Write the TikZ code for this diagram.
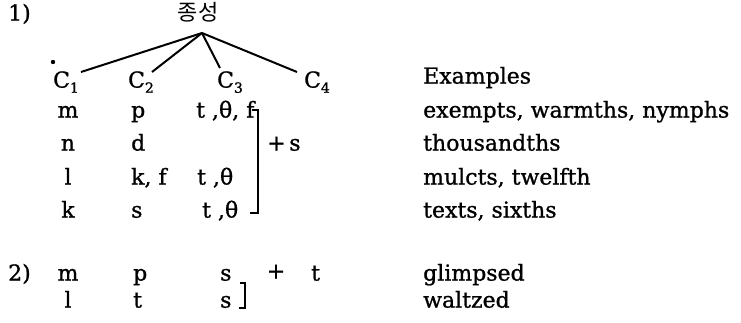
\documentclass[tikz,border=0pt]{standalone}
\usepackage{fontspec}
\setmainfont{DejaVu Serif}[FakeBold=1]
\newfontfamily\krfont{Noto Sans CJK KR}
\tikzset{every node/.style={font=\fontsize{22}{26}\selectfont, inner sep=0pt}}
\colorlet{inkcol}{black}
\newcommand{\Csub}[1]{C\raisebox{-0.45ex}{\fontsize{14}{17}\selectfont #1}}

\begin{document}
\begin{tikzpicture}[x=1pt, y=-1pt]
  \useasboundingbox (0,0) rectangle (741,322);

  % Group labels.
  \node[anchor=mid west] (num1) at (8,18) {1)};
  \node[anchor=mid west] (num2) at (8,278) {2)};

  % Tree: root and the four consonant slots.
  \node (root) at (198,12) {\krfont\fontsize{22}{26}\selectfont 종성};
  \coordinate (apex) at (202,33);
  \node[anchor=mid] (c1) at (66,85) {\Csub{1}};
  \node[anchor=mid] (c2) at (141,85) {\Csub{2}};
  \node[anchor=mid] (c3) at (230,85) {\Csub{3}};
  \node[anchor=mid] (c4) at (317,85) {\Csub{4}};
  \coordinate (e1) at (81,72);
  \coordinate (e2) at (152,72);
  \coordinate (e3) at (220,68);
  \coordinate (e4) at (297,72);
  \foreach \k in {1,2,3,4} {
    \draw[inkcol, line width=2pt] (apex) -- (e\k);
  }
  \fill[inkcol] (53,62) circle (2.2);

  % Examples heading.
  \node[anchor=mid west] (exhead) at (423,81) {Examples};

  % Rows of group 1.
  \foreach \n/\y/\a/\b/\cx/\c/\ex in {
      1/115/m/p/196/{t ,θ, f}/{exempts, warmths, nymphs},
      2/148/n/d/196/{}/{thousandths},
      3/182/l/{k, f}/197/{t ,θ}/{mulcts, twelfth},
      4/215/k/s/202/{t ,θ}/{texts, sixths}} {
    \node[anchor=mid] (a\n) at (68,\y) {\a};
    \node[anchor=mid west] (b\n) at (131,\y) {\b};
    \node[anchor=mid west] (c\n) at (\cx,\y) {\c};
    \node[anchor=mid west] (ex\n) at (423,\y) {\ex};
  }

  % Bracket and suffix of group 1.
  \coordinate (bt1) at (258,110);
  \coordinate (bb1) at (258,213);
  \draw[inkcol, line width=1.6pt] ([xshift=-6pt]bt1) -- (bt1) -- (bb1)
    -- ([xshift=-8pt]bb1);
  \node[anchor=mid west] (plus1) at (267,148) {+\,s};

  % Rows of group 2.
  \foreach \n/\y/\a/\b/\c/\ex in {
      5/278/m/p/s/glimpsed,
      6/305/l/t/s/waltzed} {
    \node[anchor=mid] (a\n) at (68,\y) {\a};
    \node[anchor=mid west] (b\n) at (133,\y) {\b};
    \node[anchor=mid west] (c\n) at (220,\y) {\c};
    \node[anchor=mid west] (ex\n) at (423,\y) {\ex};
  }

  % Bracket and suffix of group 2.
  \coordinate (bt2) at (245,283);
  \coordinate (bb2) at (245,308);
  \draw[inkcol, line width=1.6pt] ([xshift=-5pt]bt2) -- (bt2) -- (bb2)
    -- ([xshift=-6pt]bb2);
  \node[anchor=mid] (plus2) at (276,276) {+};
  \node[anchor=mid west] (suf2) at (311,278) {t};

\end{tikzpicture}
\end{document}
